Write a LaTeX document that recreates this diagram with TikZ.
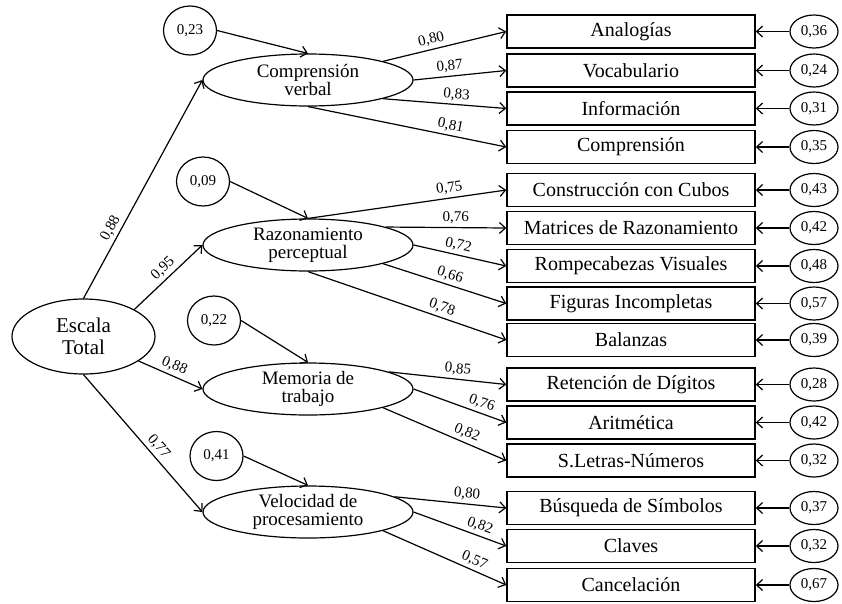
\documentclass[tikz,border=0pt]{standalone}
\usepackage{fontspec}
\setmainfont{Liberation Serif}
\usetikzlibrary{shapes.geometric,arrows.meta}
\begin{document}
\begin{tikzpicture}[x=1pt,y=-1pt,>={Straight Barb[length=6pt,width=11pt]}]

% Style for nodes
\tikzstyle{latent}=[ellipse,draw,line width=1.2pt,inner sep=0,minimum width=210pt,minimum height=52pt,align=center,font=\fontsize{19}{18}\selectfont]
\tikzstyle{total}=[ellipse,draw,line width=1.2pt,inner sep=0,minimum width=143pt,minimum height=75pt,align=center,font=\fontsize{21}{22}\selectfont]
\tikzstyle{dist}=[ellipse,draw,line width=1.2pt,inner sep=0,minimum width=53pt,minimum height=49pt,font=\fontsize{15}{15}\selectfont]
\tikzstyle{obs}=[rectangle,draw,line width=1.5pt,inner sep=0,minimum width=248pt,minimum height=33pt,font=\fontsize{20}{20}\selectfont]
\tikzstyle{err}=[ellipse,draw,line width=1.2pt,inner sep=0,minimum width=48pt,minimum height=33pt,font=\fontsize{15}{15}\selectfont]
% Style for paths and coefficients
\tikzstyle{link}=[->,line width=1.2pt]
\tikzstyle{coef}=[sloped,above,inner sep=3pt,font=\fontsize{15}{15}\selectfont]

\useasboundingbox (0,0) rectangle (842,603);

% General factor and first-order factors
\node(T)[total] at (83.5,336.5){Escala\\Total};
\node(f1)[latent] at (308,80){Comprensión\\verbal};
\node(f2)[latent] at (308,245){Razonamiento\\perceptual};
\node(f3)[latent] at (308,389){Memoria de\\trabajo};
\node(f4)[latent] at (308,512){Velocidad de\\procesamiento};

% Disturbances
\node(d1)[dist] at (190,30.5){0,23};
\node(d2)[dist] at (203,181.5){0,09};
\node(d3)[dist] at (214,320.5){0,22};
\node(d4)[dist] at (216.5,456){0,41};

% Subtests
\node(v1)[obs] at (631,31.5){Analogías};
\node(v2)[obs] at (631,70.5){Vocabulario};
\node(v3)[obs] at (631,108.5){Información};
\node(v4)[obs] at (631,147){Comprensión};
\node(v5)[obs] at (631,190){Construcción con Cubos};
\node(v6)[obs] at (631,228){Matrices de Razonamiento};
\node(v7)[obs] at (631,266){Rompecabezas Visuales};
\node(v8)[obs] at (631,303.5){Figuras Incompletas};
\node(v9)[obs] at (631,340){Balanzas};
\node(v10)[obs] at (631,384.5){Retención de Dígitos};
\node(v11)[obs] at (631,422.5){Aritmética};
\node(v12)[obs] at (631,460.5){S.Letras-Números};
\node(v13)[obs] at (631,508){Búsqueda de Símbolos};
\node(v14)[obs] at (631,546){Claves};
\node(v15)[obs] at (631,585){Cancelación};

% Errors
\node(e1)[err] at (814,31.5){0,36};
\node(e2)[err] at (814,70.5){0,24};
\node(e3)[err] at (814,108.5){0,31};
\node(e4)[err] at (814,147){0,35};
\node(e5)[err] at (814,190){0,43};
\node(e6)[err] at (814,228){0,42};
\node(e7)[err] at (814,266){0,48};
\node(e8)[err] at (814,303.5){0,57};
\node(e9)[err] at (814,340){0,39};
\node(e10)[err] at (814,384.5){0,28};
\node(e11)[err] at (814,422.5){0,42};
\node(e12)[err] at (814,460.5){0,32};
\node(e13)[err] at (814,508){0,37};
\node(e14)[err] at (814,546){0,32};
\node(e15)[err] at (814,585){0,67};

% Second-order loadings
\draw[link](T.north)--node[coef,pos=.3]{0,88}(f1.west);
\draw[link](T.28)--node[coef,pos=.52]{0,95}(f2.west);
\draw[link](T.-24)--node[coef,pos=.5]{0,88}(f3.west);
\draw[link](T.south)--node[coef,pos=.57]{0,77}(f4.west);

% Disturbance paths
\draw[link](d1.east)--(f1.north);
\draw[link](d2.east)--(f2.north);
\draw[link](d3.east)--(f3.north);
\draw[link](d4.east)--(f4.north);

% First-order loadings
\draw[link](f1.14)--node[coef,pos=.41]{0,80}(v1.west);
\draw[link](f1.east)--node[coef,pos=.40]{0,87}(v2.west);
\draw[link](f1.-14)--node[coef,pos=.59]{0,83}(v3.west);
\draw[link](f1.south)--node[coef,pos=.71]{0,81}(v4.west);
\draw[link](f2.north)--node[coef,pos=.72]{0,75}(v5.west);
\draw[link](f2.13)--node[coef,pos=.58]{0,76}(v6.west);
\draw[link](f2.east)--node[coef,pos=.46]{0,72}(v7.west);
\draw[link](f2.-14)--node[coef,pos=.52]{0,66}(v8.west);
\draw[link](f2.south)--node[coef,pos=.66]{0,78}(v9.west);
\draw[link](f3.12)--node[coef,pos=.58]{0,85}(v10.west);
\draw[link](f3.east)--node[coef,pos=.70]{0,76}(v11.west);
\draw[link](f3.-14)--node[coef,pos=.65]{0,82}(v12.west);
\draw[link](f4.10)--node[coef,pos=.64]{0,80}(v13.west);
\draw[link](f4.east)--node[coef,pos=.68]{0,82}(v14.west);
\draw[link](f4.-14)--node[coef,pos=.71]{0,57}(v15.west);

% Error paths
\draw[link](e1.west)--(v1.east);
\draw[link](e2.west)--(v2.east);
\draw[link](e3.west)--(v3.east);
\draw[link](e4.west)--(v4.east);
\draw[link](e5.west)--(v5.east);
\draw[link](e6.west)--(v6.east);
\draw[link](e7.west)--(v7.east);
\draw[link](e8.west)--(v8.east);
\draw[link](e9.west)--(v9.east);
\draw[link](e10.west)--(v10.east);
\draw[link](e11.west)--(v11.east);
\draw[link](e12.west)--(v12.east);
\draw[link](e13.west)--(v13.east);
\draw[link](e14.west)--(v14.east);
\draw[link](e15.west)--(v15.east);
\end{tikzpicture}
\end{document}
